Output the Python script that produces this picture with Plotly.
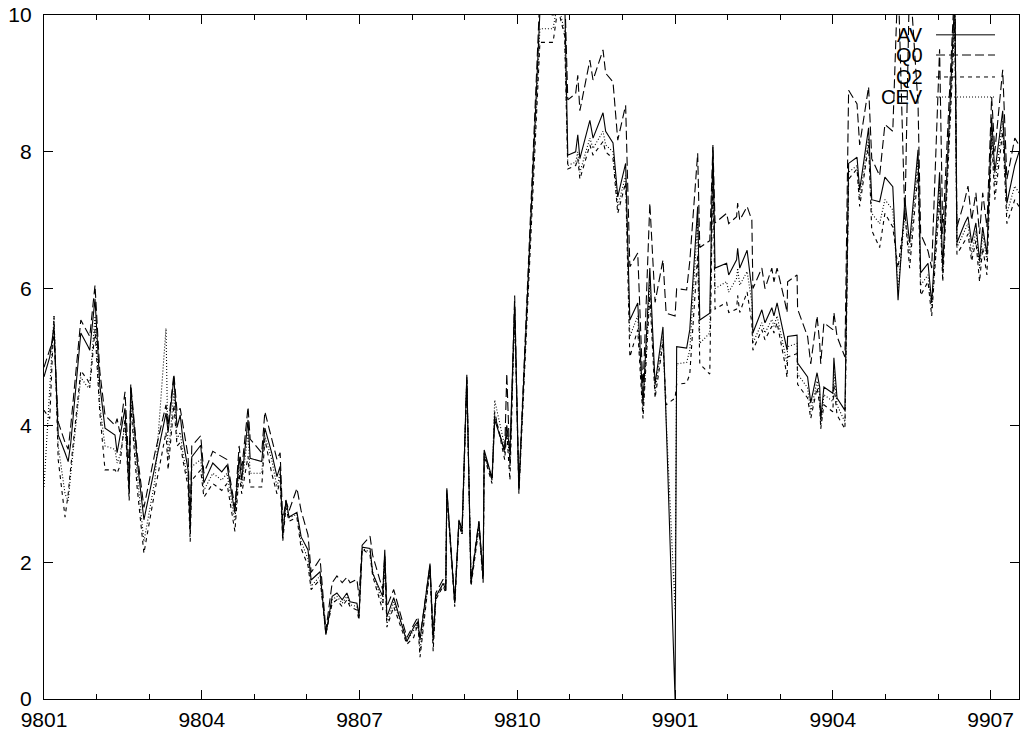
import plotly.graph_objects as go

# time in months since 9801 (Jan 1998)
t = [0.00, 0.11, 0.19, 0.27, 0.40, 0.46, 0.51, 0.70, 0.84, 0.87, 0.97, 1.06, 1.16, 1.35, 1.39, 1.44, 1.54, 1.62, 1.65, 1.77,
     1.90, 2.11, 2.32, 2.36, 2.47, 2.53, 2.59, 2.64, 2.74, 2.78, 2.81, 2.98, 3.04, 3.21, 3.38, 3.48, 3.63, 3.71, 3.76, 3.88,
     3.92, 4.14, 4.20, 4.33, 4.43, 4.49, 4.54, 4.60, 4.66, 4.81, 4.89, 5.02, 5.08, 5.25, 5.36, 5.48, 5.57, 5.67, 5.76, 5.82,
     5.95, 5.99, 6.05, 6.20, 6.25, 6.44, 6.48, 6.52, 6.65, 6.90, 7.03, 7.11, 7.15, 7.34, 7.40, 7.45, 7.59, 7.64, 7.66, 7.81,
     7.89, 7.95, 8.04, 8.12, 8.27, 8.35, 8.37, 8.52, 8.57, 8.76, 8.80, 8.86, 8.95, 9.03, 9.43, 9.68, 9.77, 9.90, 9.96, 10.11,
     10.15, 10.19, 10.38, 10.44, 10.63, 10.68, 10.82, 10.91, 11.06, 11.14, 11.29, 11.39, 11.52, 11.62, 11.77, 11.83, 12.00, 12.03, 12.22, 12.28,
     12.43, 12.47, 12.66, 12.72, 12.76, 12.98, 13.02, 13.17, 13.19, 13.23, 13.37, 13.46, 13.48, 13.65, 13.71, 13.84, 13.88, 13.94, 14.09, 14.13,
     14.14, 14.32, 14.33, 14.52, 14.58, 14.70, 14.75, 14.77, 14.83, 15.00, 15.02, 15.08, 15.23, 15.30, 15.46, 15.51, 15.68, 15.74, 15.89, 15.99,
     16.14, 16.24, 16.37, 16.46, 16.62, 16.67, 16.81, 16.88, 17.03, 17.09, 17.32, 17.36, 17.51, 17.57, 17.64, 17.72, 17.79, 17.85, 17.93, 18.02,
     18.08, 18.23, 18.31, 18.46, 18.54]

av = [4.71, 5.00, 5.45, 3.86, 3.60, 3.47, 3.75, 5.35, 5.15, 5.10, 5.85, 4.60, 3.96, 3.86, 3.60, 3.80, 4.25, 3.00, 4.56, 3.50,
      2.62, 3.40, 4.18, 3.90, 4.70, 3.97, 4.15, 3.80, 3.35, 2.43, 3.54, 3.71, 3.16, 3.45, 3.32, 3.42, 2.72, 3.54, 3.20, 4.08,
      3.52, 3.47, 3.96, 3.60, 3.25, 3.40, 2.37, 2.91, 2.66, 2.73, 2.37, 2.18, 1.74, 1.86, 0.94, 1.50, 1.55, 1.45, 1.55, 1.42,
      1.40, 1.22, 2.22, 2.20, 1.84, 1.50, 2.18, 1.20, 1.48, 0.84, 1.05, 1.13, 0.86, 1.98, 0.86, 1.50, 1.69, 1.60, 3.08, 1.40,
      2.62, 2.45, 4.74, 1.69, 2.59, 1.79, 3.64, 3.23, 4.08, 3.64, 4.00, 3.60, 5.80, 3.05, 10.05, 10.00, 10.50, 10.30, 7.95, 8.00,
      8.25, 7.90, 8.46, 8.20, 8.57, 8.30, 8.13, 7.34, 7.83, 5.54, 5.79, 4.30, 6.30, 4.60, 5.44, 4.08, 0.00, 5.15, 5.13, 5.40,
      7.20, 5.54, 5.64, 8.07, 6.30, 6.37, 6.20, 6.42, 6.59, 6.30, 6.56, 5.98, 5.35, 5.69, 5.50, 5.72, 5.60, 5.79, 5.25, 5.10,
      5.30, 5.32, 4.91, 4.71, 4.33, 4.77, 4.56, 4.08, 4.56, 4.47, 4.99, 4.40, 4.22, 7.83, 7.92, 7.44, 8.35, 7.30, 7.27, 7.63,
      7.49, 5.83, 7.30, 6.67, 8.03, 6.23, 6.37, 5.79, 7.70, 6.30, 10.30, 6.67, 6.96, 7.05, 6.67, 6.96, 6.40, 6.90, 6.50, 8.50,
      7.70, 8.60, 7.25, 7.80, 8.00]

q0 = [4.85, 5.10, 5.30, 4.05, 3.75, 3.65, 4.00, 5.54, 5.35, 5.30, 6.05, 4.80, 4.15, 4.00, 4.10, 3.90, 4.49, 3.30, 4.60, 3.60,
      2.80, 3.60, 4.30, 4.00, 4.75, 4.20, 4.25, 4.00, 3.55, 2.60, 3.70, 3.85, 3.30, 3.62, 3.55, 3.50, 2.80, 3.70, 3.35, 4.27,
      3.80, 3.60, 4.20, 3.80, 3.50, 3.60, 2.60, 2.90, 2.75, 3.08, 2.75, 2.40, 1.85, 2.05, 1.00, 1.70, 1.80, 1.70, 1.78, 1.70,
      1.75, 1.50, 2.25, 2.38, 2.10, 1.60, 2.10, 1.35, 1.60, 0.90, 1.10, 1.20, 0.90, 1.95, 0.95, 1.55, 1.75, 1.65, 3.05, 1.45,
      2.60, 2.50, 4.70, 1.75, 2.60, 1.75, 3.60, 3.20, 4.15, 3.60, 4.76, 3.40, 5.90, 3.10, 10.30, 10.30, 10.60, 10.40, 8.76, 8.85,
      9.12, 8.60, 9.34, 9.05, 9.49, 9.15, 9.02, 8.17, 8.68, 6.32, 6.52, 4.50, 7.25, 5.80, 6.42, 5.64, 5.60, 6.00, 5.98, 6.40,
      7.98, 6.60, 6.70, 8.10, 6.96, 7.10, 6.95, 7.05, 7.25, 7.00, 7.20, 7.00, 6.00, 6.30, 6.00, 6.30, 6.10, 6.30, 5.80, 5.65,
      6.10, 6.20, 5.70, 5.30, 4.90, 5.60, 5.20, 4.90, 5.50, 5.40, 5.65, 5.30, 5.00, 8.90, 8.70, 8.10, 8.95, 7.90, 7.65, 8.40,
      8.30, 10.60, 7.00, 10.60, 8.70, 6.80, 6.55, 6.30, 9.50, 6.80, 10.50, 6.90, 7.30, 7.50, 7.00, 7.40, 6.80, 7.40, 6.90, 8.80,
      8.00, 9.20, 7.60, 8.20, 8.10]

q2 = [4.22, 4.10, 5.60, 3.50, 2.66, 3.00, 3.40, 4.80, 4.65, 4.55, 5.40, 4.20, 3.35, 3.35, 3.30, 3.40, 4.10, 2.90, 4.30, 3.10,
      2.13, 3.05, 3.90, 3.35, 4.30, 3.70, 3.75, 3.50, 3.10, 2.30, 3.20, 3.35, 2.95, 3.15, 3.05, 3.15, 2.45, 3.30, 3.00, 3.55,
      3.10, 3.10, 3.80, 3.30, 3.00, 3.20, 2.30, 2.80, 2.60, 2.65, 2.20, 1.95, 1.60, 1.75, 0.95, 1.40, 1.45, 1.35, 1.45, 1.35,
      1.30, 1.15, 2.20, 2.10, 1.80, 1.30, 2.00, 1.05, 1.35, 0.80, 0.90, 1.10, 0.61, 1.90, 0.70, 1.45, 1.65, 1.55, 3.00, 1.35,
      2.55, 2.40, 4.65, 1.65, 2.50, 1.70, 3.55, 3.15, 4.20, 3.50, 3.90, 3.20, 5.70, 3.00, 9.60, 9.60, 10.10, 9.70, 7.75, 7.80,
      7.90, 7.60, 8.10, 7.95, 8.15, 8.00, 7.90, 7.10, 7.55, 5.00, 5.40, 4.10, 5.90, 4.40, 5.20, 4.30, 4.40, 4.60, 4.62, 4.75,
      6.50, 4.90, 4.75, 7.80, 5.70, 5.80, 5.65, 5.70, 5.90, 5.65, 5.95, 5.50, 5.10, 5.40, 5.25, 5.45, 5.35, 5.50, 4.90, 4.70,
      5.00, 5.05, 4.60, 4.40, 4.10, 4.55, 4.30, 3.95, 4.30, 4.20, 4.60, 4.15, 3.95, 7.60, 7.75, 7.20, 8.10, 6.85, 6.60, 7.10,
      6.90, 6.30, 7.10, 6.30, 7.70, 5.90, 6.10, 5.60, 7.30, 6.10, 9.90, 6.50, 6.70, 6.80, 6.40, 6.70, 6.10, 6.60, 6.20, 8.20,
      7.30, 8.30, 6.95, 7.30, 7.20]

cev = [3.10, 4.60, 5.60, 3.70, 3.00, 2.90, 3.30, 4.70, 4.55, 4.60, 5.60, 4.30, 3.70, 3.65, 3.45, 3.55, 4.00, 3.20, 4.40, 3.30,
       2.30, 3.20, 5.42, 3.50, 4.50, 3.80, 3.90, 3.60, 3.20, 2.50, 3.40, 3.50, 3.05, 3.30, 3.20, 3.30, 2.60, 3.40, 3.10, 3.90,
       3.30, 3.30, 3.85, 3.50, 3.10, 3.30, 2.40, 2.85, 2.65, 2.70, 2.30, 2.05, 1.65, 1.80, 0.95, 1.45, 1.50, 1.40, 1.50, 1.38,
       1.35, 1.20, 2.20, 2.15, 1.85, 1.40, 2.10, 1.10, 1.42, 0.85, 1.00, 1.10, 0.70, 1.90, 0.80, 1.45, 1.70, 1.60, 3.00, 1.40,
       2.60, 2.40, 4.70, 1.70, 2.55, 1.75, 3.60, 3.20, 4.37, 3.70, 3.90, 3.50, 5.60, 3.05, 9.80, 9.80, 10.20, 9.75, 7.80, 7.85,
       8.00, 7.70, 8.20, 8.05, 8.30, 8.10, 8.00, 7.20, 7.65, 5.30, 5.60, 4.20, 6.10, 4.50, 5.30, 4.10, 1.30, 4.90, 4.92, 5.10,
       7.00, 5.20, 5.35, 7.90, 6.00, 6.10, 5.95, 6.15, 6.30, 6.05, 6.25, 5.80, 5.20, 5.50, 5.35, 5.55, 5.45, 5.60, 5.05, 4.90,
       5.15, 5.20, 4.75, 4.55, 4.20, 4.65, 4.45, 4.00, 4.45, 4.35, 4.80, 4.30, 4.05, 7.70, 7.80, 7.30, 8.20, 7.10, 6.95, 7.30,
       7.15, 6.00, 7.10, 6.50, 7.90, 6.05, 6.20, 5.70, 7.50, 6.20, 10.10, 6.60, 6.85, 6.95, 6.50, 6.85, 6.30, 6.80, 6.40, 8.35,
       7.50, 8.45, 7.10, 7.50, 7.40]

names = ["AV", "Q0", "Q2", "CEV"]
dashes = ["solid", "9px,4px", "4px,4px", "1px,2px"]

tick_pos = [0, 3, 6, 9, 12, 15, 18]
tick_text = ["9801", "9804", "9807", "9810", "9901", "9904", "9907"]

FONT = "Liberation Sans, Arial, sans-serif"

fig = go.Figure()
for name, ys, d in zip(names, [av, q0, q2, cev], dashes):
    fig.add_trace(go.Scatter(x=t, y=ys, mode="lines", name=name,
                             line=dict(color="black", width=1.1, dash=d),
                             showlegend=False))

# gnuplot-style key: label on the left, line sample on the right
key_y = [0.971, 0.9415, 0.9094, 0.8801]
for name, d, ky in zip(names, dashes, key_y):
    fig.add_annotation(x=0.9036, y=ky, xref="paper", yref="paper", text=name,
                       showarrow=False, xanchor="right", yanchor="middle",
                       font=dict(family=FONT, size=20, color="black"))
    fig.add_shape(type="line", xref="paper", yref="paper",
                  x0=0.9149, x1=0.9754, y0=ky, y1=ky,
                  line=dict(color="black", width=1, dash=d))

fig.update_layout(
    width=1023, height=735,
    margin=dict(l=44, r=4, t=15, b=36),
    paper_bgcolor="white", plot_bgcolor="white",
    font=dict(family=FONT, size=21, color="black"),
    xaxis=dict(range=[0, 18.54], tickmode="array", tickvals=tick_pos, ticktext=tick_text,
               ticks="inside", ticklen=9, tickwidth=1, tickcolor="black",
               minor=dict(dtick=1, tick0=0, ticks="inside", ticklen=5, tickcolor="black", showgrid=False),
               showline=True, linecolor="black", linewidth=1.2, mirror="ticks",
               showgrid=False, zeroline=False, tickfont=dict(size=21),
               ticklabelstandoff=2, ticklabeloverflow="allow", automargin=False),
    yaxis=dict(range=[0, 10], tickmode="array", tickvals=[0, 2, 4, 6, 8, 10],
               ticks="inside", ticklen=9, tickwidth=1, tickcolor="black",
               showline=True, linecolor="black", linewidth=1.2, mirror="ticks",
               showgrid=False, zeroline=False, tickfont=dict(size=21),
               ticklabelstandoff=7, ticklabeloverflow="allow", automargin=False),
)

fig.write_html("out.html", config={"displayModeBar": False},
               post_script="document.body.style.margin='0';")
